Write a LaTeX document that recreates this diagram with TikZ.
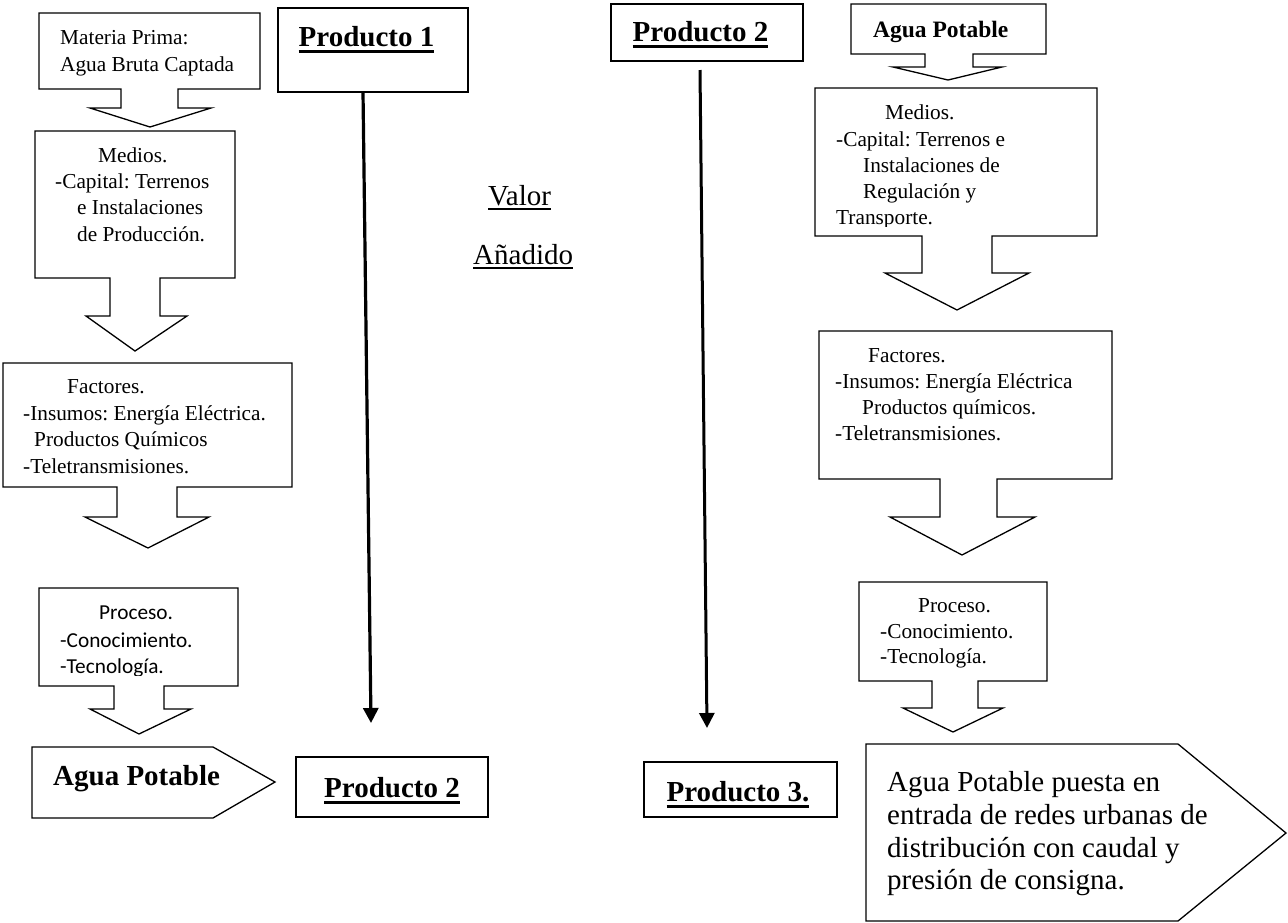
\documentclass[tikz,border=0pt]{standalone}
\usepackage{fontspec}
\setmainfont{Liberation Serif}
\newfontfamily\calfont{Carlito}
\usetikzlibrary{arrows.meta}
\frenchspacing
\newsavebox\ulbox
% text with a rule drawn under it: #2 = depth of the rule, #3 = its thickness
\newcommand\ulbar[3]{\sbox\ulbox{#1}\rlap{\rule[#2]{\wd\ulbox}{#3}}\usebox\ulbox}

\begin{document}
\begin{tikzpicture}[x=1pt,y=-1pt,
  callout/.style={draw, line width=1.3pt, line join=miter, fill=white},
  pbox/.style={draw, line width=1.7pt, inner sep=0pt, fill=white},
  body/.style={inner sep=0pt, anchor=base west, font=\fontsize{21.3}{26}\selectfont},
  bodycal/.style={inner sep=0pt, anchor=base west, font=\calfont\fontsize{21.3}{26}\selectfont},
  big/.style={inner sep=0pt, anchor=base west, font=\fontsize{29}{33}\selectfont},
  bigbold/.style={inner sep=0pt, anchor=base west, font=\bfseries\fontsize{29}{33}\selectfont},
  flow/.style={line width=3.2pt, -{Triangle[width=15pt,length=15pt]}}
]
\useasboundingbox (0,0) rectangle (1288,922);
\fill[white] (0,0) rectangle (1288,922);

% ---------------- left column: raw water to drinking water ----------------
\draw[callout] (39,13) -- (260,13) -- (260,89) -- (178,89) -- (178,108) -- (211,108)
  -- (150,127) -- (90,108) -- (121,108) -- (121,89) -- (39,89) -- cycle;
\node[body] (mp1) at (60,44) {Materia Prima:};
\node[body] (mp2) at (60,71) {Agua Bruta Captada};

\draw[callout] (35,131) -- (235,131) -- (235,278) -- (160,278) -- (160,316) -- (187,316)
  -- (135,351) -- (86,316) -- (110,316) -- (110,278) -- (35,278) -- cycle;
\node[body] (ml1) at (98,162) {Medios.};
\node[body] (ml2) at (55,188) {-Capital: Terrenos};
\node[body] (ml3) at (77,214) {e Instalaciones};
\node[body] (ml4) at (77,241) {de Producción.};

\draw[callout] (3,363) -- (292,363) -- (292,487) -- (177,487) -- (177,517) -- (209,517)
  -- (148,548) -- (85,517) -- (117,517) -- (117,487) -- (3,487) -- cycle;
\node[body] (fl1) at (67,393) {Factores.};
\node[body] (fl2) at (23,420) {-Insumos: Energía Eléctrica.};
\node[body] (fl3) at (34,446) {Productos Químicos};
\node[body] (fl4) at (23,473) {-Teletransmisiones.};

\draw[callout] (39,588) -- (238,588) -- (238,686) -- (164,686) -- (164,709) -- (191,709)
  -- (139,734) -- (90,709) -- (114,709) -- (114,686) -- (39,686) -- cycle;
\node[bodycal] (pl1) at (99,619) {Proceso.};
\node[bodycal] (pl2) at (60,647) {-Conocimiento.};
\begin{scope}
  \clip (40,650) rectangle (237,675.5);
  \node[bodycal] (pl3) at (60,673) {-Tecnología.};
\end{scope}

\draw[callout] (32,747) -- (213,747) -- (275,782) -- (213,818) -- (32,818) -- cycle;
\node[bigbold] (apl) at (53,785) {Agua Potable};

% ---------------- product boxes and value-added arrows ----------------
\node[pbox, minimum width=190pt, minimum height=84pt] (p1) at (373,50) {};
\node[bigbold, anchor=base] (p1t) at (366.5,46) {\ulbar{Producto 1}{-7pt}{2.8pt}};

\node[pbox, minimum width=192pt, minimum height=60pt] (p2b) at (392,787) {};
\node[bigbold, anchor=base] (p2bt) at (392,797) {\ulbar{Producto 2}{-7pt}{2.8pt}};

\node[pbox, minimum width=192pt, minimum height=57pt] (p2a) at (707,32.5) {};
\node[bigbold, anchor=base] (p2at) at (700.5,41) {\ulbar{Producto 2}{-7pt}{2.8pt}};

\node[pbox, minimum width=193pt, minimum height=55pt] (p3) at (740.5,789.5) {};
\node[bigbold, anchor=base] (p3t) at (738,801) {\ulbar{Producto 3.}{-7pt}{2.8pt}};

\coordinate (f1s) at (363,92);
\coordinate (f1e) at (371,723);
\draw[flow] (f1s) -- (f1e);
\coordinate (f2s) at (700,70);
\coordinate (f2e) at (707,728);
\draw[flow, line width=3pt] (f2s) -- (f2e);

\node[big] (val) at (488,205) {\ulbar{Valor}{-4.8pt}{1.6pt}};
\node[big] (ana) at (473,264) {\ulbar{Añadido}{-4.8pt}{1.6pt}};

% ---------------- right column: drinking water to urban networks ----------------
\draw[callout] (851,4) -- (1046,4) -- (1046,54) -- (973,54) -- (973,67) -- (1002,67)
  -- (948,80) -- (893,67) -- (925,67) -- (925,54) -- (851,54) -- cycle;
\node[inner sep=0pt, anchor=base west, font=\bfseries\fontsize{23.5}{27}\selectfont] (apt) at (873,37) {Agua Potable};

\draw[callout] (815,88) -- (1097,88) -- (1097,236) -- (992,236) -- (992,273) -- (1029,273)
  -- (957,310) -- (885,273) -- (922,273) -- (922,236) -- (815,236) -- cycle;
\node[body] (mr1) at (885,119) {Medios.};
\node[body] (mr2) at (836,146) {-Capital: Terrenos e};
\node[body] (mr3) at (863,172) {Instalaciones de};
\node[body] (mr4) at (863,198) {Regulación y};
\begin{scope}
  \clip (816,200) rectangle (1096,226.5);
  \node[body] (mr5) at (836,224) {Transporte.};
\end{scope}

\draw[callout] (819,331) -- (1112,331) -- (1112,479) -- (997,479) -- (997,517) -- (1035,517)
  -- (962,555) -- (890,517) -- (940,517) -- (940,479) -- (819,479) -- cycle;
\node[body] (fr1) at (868,362) {Factores.};
\node[body] (fr2) at (835,388) {-Insumos: Energía Eléctrica};
\node[body] (fr3) at (862,414) {Productos químicos.};
\node[body] (fr4) at (835,440) {-Teletransmisiones.};

\draw[callout] (859,582) -- (1047,582) -- (1047,681) -- (978,681) -- (978,708) -- (1003,708)
  -- (953,732) -- (903,708) -- (932,708) -- (932,681) -- (859,681) -- cycle;
\node[body] (pr1) at (918,612) {Proceso.};
\node[body] (pr2) at (880,638) {-Conocimiento.};
\node[body] (pr3) at (880,663) {-Tecnología.};

\draw[callout] (866,744) -- (1178,744) -- (1286,833) -- (1178,921) -- (866,921) -- cycle;
\node[big] (bg1) at (887,791) {Agua Potable puesta en};
\node[big] (bg2) at (887,824) {entrada de redes urbanas de};
\node[big] (bg3) at (887,857) {distribución con caudal y};
\node[big] (bg4) at (887,889) {presión de consigna.};
\end{tikzpicture}
\end{document}
